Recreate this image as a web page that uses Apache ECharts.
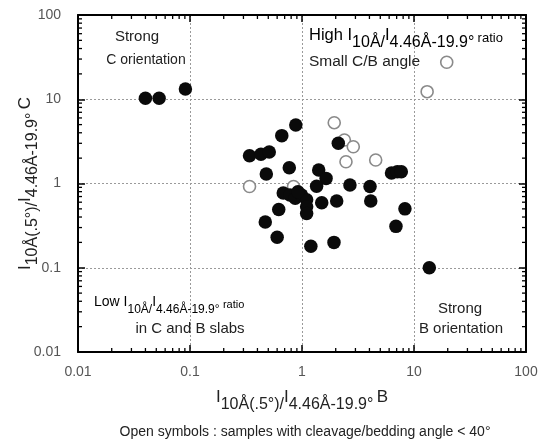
<!DOCTYPE html>
<html><head><meta charset="utf-8">
<script src="https://cdn.jsdelivr.net/npm/echarts/dist/echarts.min.js"></script>
<style>html,body{margin:0;padding:0;background:#fff}#c{width:543px;height:443px}</style>
</head><body><div id="c"></div>
<script>
// Filled symbols (B ratio, C ratio)
const filledB = [0.040,0.053,0.091,0.88,0.66,0.34,0.43,0.51,0.48,0.77,2.11,1.41,1.64,1.35,2.68,4.05,2.04,4.11,8.3,6.9,1.93,13.7,6.3,7.1,7.7,0.68,0.78,0.87,0.99,1.10,1.10,1.10,0.92,1.50,0.62,0.47,0.60,1.20];
const filledC = [10.3,10.3,13.2,4.95,3.7,2.14,2.22,2.36,1.30,1.54,3.0,1.45,1.15,0.93,0.96,0.92,0.62,0.62,0.50,0.31,0.20,0.10,1.33,1.38,1.38,0.77,0.73,0.67,0.73,0.64,0.53,0.44,0.80,0.59,0.49,0.35,0.23,0.18];
// Open symbols: samples with cleavage/bedding angle < 40°
const openB = [19.6,13.1,1.94,2.39,2.87,2.47,4.55,0.34,0.84];
const openC = [27.5,12.3,5.27,3.28,2.73,1.81,1.90,0.92,0.92];
const tickLabels = ['0.01','0.1','1','10','100'];
const decades = [0.01,0.1,1,10];
const minorMult = [2,3,4,5,6,7,8,9];

const FONT = "'Liberation Sans', Arial, sans-serif";
const TXT = '#222';

const zip = (a,b) => a.map((v,i)=>[v,b[i]]);
const minorData = [];
decades.forEach(d => minorMult.forEach(m => {
  const v = +(d*m).toPrecision(3);
  minorData.push([v, 1, 0]);
  minorData.push([1, v, 1]);
}));

function mkRich(n, s, r, up, rup) {
  return {
    n: {fontSize: n, fontFamily: FONT, color: TXT, verticalAlign: 'bottom', padding: [0,0,up,0]},
    s: {fontSize: s, fontFamily: FONT, color: TXT, verticalAlign: 'bottom', padding: [0,0,0,0]},
    r: {fontSize: r, fontFamily: FONT, color: TXT, verticalAlign: 'bottom', padding: [0,0,rup,0]}
  };
}
const titleRich = mkRich(17, 16, 12, 7, 8);

const fmt = v => tickLabels[Math.round(Math.log10(v)) + 2];

const baseAxis = {
  type: 'log', min: 0.01, max: 100, logBase: 10,
  nameMoveOverlap: false,
  axisLine: {show: true, onZero: false, lineStyle: {color: '#000', width: 2}},
  axisTick: {show: true, inside: true, length: 7, lineStyle: {color: '#000', width: 1.5}},
  minorTick: {show: false}
};

const chart = echarts.init(document.getElementById('c'));
chart.setOption({
  animation: false,
  backgroundColor: '#fff',
  grid: {left: 78, right: 17, top: 15, bottom: 91, containLabel: false, outerBoundsMode: 'none'},
  xAxis: [
    Object.assign({}, baseAxis, {
      position: 'bottom',
      axisLabel: {formatter: fmt, fontSize: 14, fontFamily: FONT, color: '#555', margin: 13},
      splitLine: {show: true, lineStyle: {color: '#9a9a9a', type: [2,2], width: 1}},
      name: '{n|I}{s|10Å(.5°)}{s|/}{n|I}{s|4.46Å-19.9°} {n|B}',
      nameLocation: 'middle', nameGap: 37,
      nameTextStyle: {rich: titleRich}
    }),
    Object.assign({}, baseAxis, {position: 'top', axisLabel: {show: false}, splitLine: {show: false}})
  ],
  yAxis: [
    Object.assign({}, baseAxis, {
      position: 'left',
      axisLabel: {formatter: fmt, fontSize: 14, fontFamily: FONT, color: '#555', margin: 17},
      splitLine: {show: true, lineStyle: {color: '#9a9a9a', type: [2,2], width: 1}},
      name: '{n|I}{s|10Å(.5°)}{s|/}{n|I}{s|4.46Å-19.9°} {n|C}',
      nameLocation: 'middle', nameGap: 37, nameRotate: 90,
      nameTextStyle: {rich: titleRich}
    }),
    Object.assign({}, baseAxis, {position: 'right', axisLabel: {show: false}, splitLine: {show: false}})
  ],
  series: [
    {
      type: 'custom', xAxisIndex: 0, yAxisIndex: 0, silent: true, z: 5,
      data: minorData, encode: {x: 0, y: 1},
      renderItem: function (params, api) {
        const cs = params.coordSys;
        const kind = api.value(2);
        const L = 4;
        const st = {stroke: '#000', lineWidth: 1.3};
        if (kind === 0) {
          const px = api.coord([api.value(0), 1])[0];
          return {type: 'group', children: [
            {type: 'line', shape: {x1: px, y1: cs.y + cs.height, x2: px, y2: cs.y + cs.height - L}, style: st},
            {type: 'line', shape: {x1: px, y1: cs.y, x2: px, y2: cs.y + L}, style: st}
          ]};
        } else {
          const py = api.coord([1, api.value(1)])[1];
          return {type: 'group', children: [
            {type: 'line', shape: {x1: cs.x, y1: py, x2: cs.x + L, y2: py}, style: st},
            {type: 'line', shape: {x1: cs.x + cs.width, y1: py, x2: cs.x + cs.width - L, y2: py}, style: st}
          ]};
        }
      }
    },
    {
      type: 'scatter', name: 'open', data: zip(openB, openC), symbol: 'circle', symbolSize: 12, z: 6,
      itemStyle: {color: '#fff', borderColor: '#8a8a8a', borderWidth: 1.6, opacity: 1}
    },
    {
      type: 'scatter', name: 'filled', data: zip(filledB, filledC), symbol: 'circle', symbolSize: 13.5, z: 7,
      itemStyle: {color: '#0a0a0a', opacity: 1}
    }
  ],
  graphic: [
    {type: 'text', z: 10, style: {text: 'Strong', x: 137, y: 37, align: 'center', verticalAlign: 'middle', font: '15px ' + FONT, fill: TXT}},
    {type: 'text', z: 10, style: {text: 'C orientation', x: 146, y: 60, align: 'center', verticalAlign: 'middle', font: '14px ' + FONT, fill: TXT}},
    {type: 'text', z: 10, style: {text: '{n|High I}{s|10Å}{s|/}{n|I}{s|4.46Å-19.9°} {r|ratio}', x: 309, y: 51, align: 'left', verticalAlign: 'bottom', rich: mkRich(16.5, 16, 13, 7, 6)}},
    {type: 'text', z: 10, style: {text: 'Small C/B angle', x: 309, y: 62, align: 'left', verticalAlign: 'middle', font: '15.5px ' + FONT, fill: TXT}},
    {type: 'text', z: 10, style: {text: '{n|Low I}{s|10Å}{s|/}{n|I}{s|4.46Å-19.9°} {r|ratio}', x: 94, y: 316, align: 'left', verticalAlign: 'bottom', rich: mkRich(14, 12, 11, 7, 6)}},
    {type: 'text', z: 10, style: {text: 'in C and B slabs', x: 190, y: 329, align: 'center', verticalAlign: 'middle', font: '15px ' + FONT, fill: TXT}},
    {type: 'text', z: 10, style: {text: 'Strong', x: 460, y: 309, align: 'center', verticalAlign: 'middle', font: '15px ' + FONT, fill: TXT}},
    {type: 'text', z: 10, style: {text: 'B orientation', x: 461, y: 329, align: 'center', verticalAlign: 'middle', font: '15px ' + FONT, fill: TXT}},
    {type: 'text', z: 10, style: {text: 'Open symbols : samples with cleavage/bedding angle < 40°', x: 305, y: 432, align: 'center', verticalAlign: 'middle', font: '14px ' + FONT, fill: TXT}}
  ]
});
</script>
</body></html>
